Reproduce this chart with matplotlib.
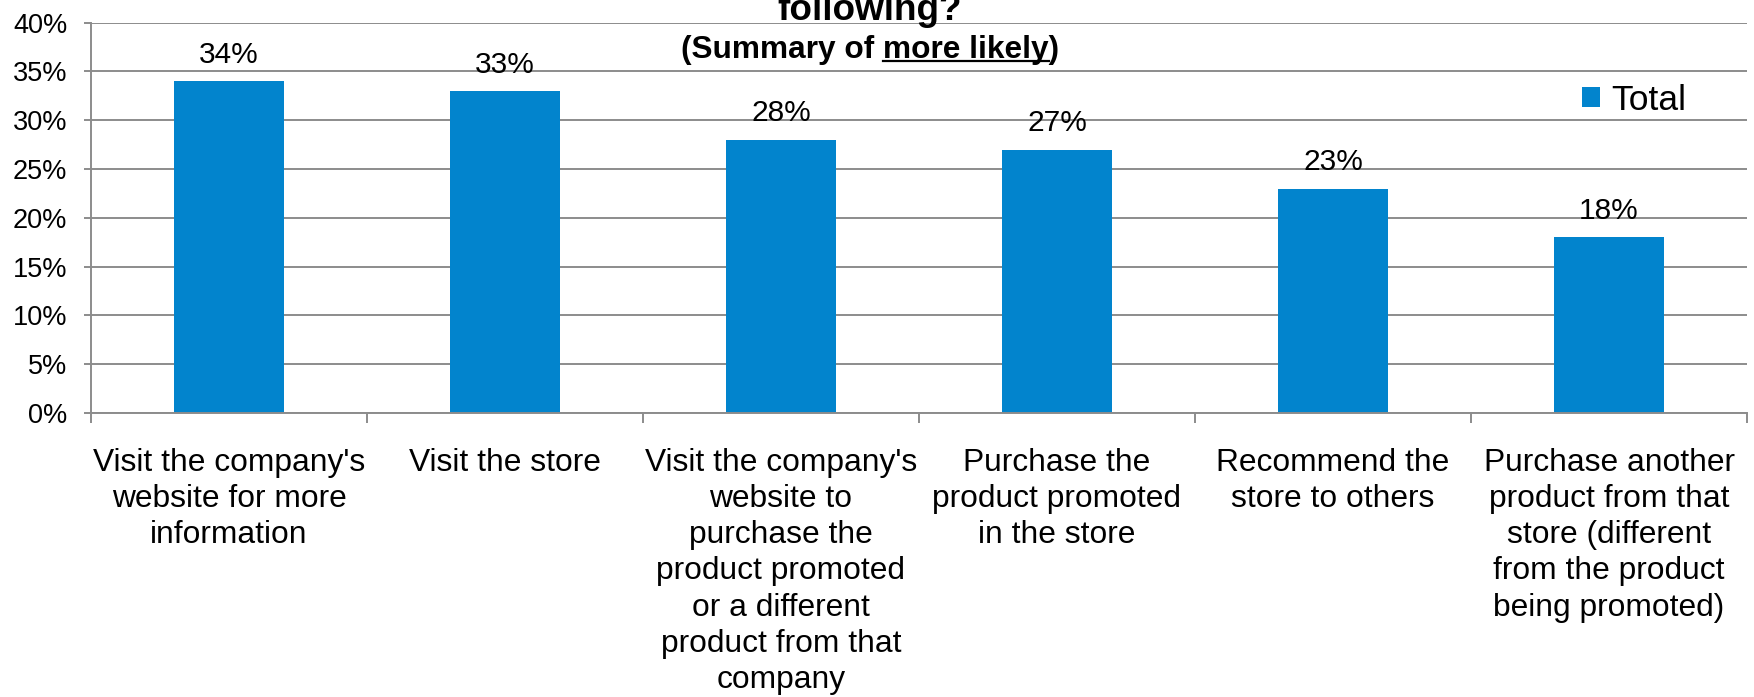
import matplotlib
matplotlib.use("Agg")
import matplotlib.pyplot as plt
import numpy as np

plt.rcParams['font.family'] = ['Liberation Sans', 'DejaVu Sans']

### data ###
categories = [
  "Visit the company's\nwebsite for more\ninformation",
  "Visit the store",
  "Visit the company's\nwebsite to\npurchase the\nproduct promoted\nor a different\nproduct from that\ncompany",
  "Purchase the\nproduct promoted\nin the store",
  "Recommend the\nstore to others",
  "Purchase another\nproduct from that\nstore (different\nfrom the product\nbeing promoted)",
]
totals = [34, 33, 28, 27, 23, 18]
y_ticks = [0, 5, 10, 15, 20, 25, 30, 35, 40]
series_name = "Total"
title_tail = "following?"
subtitle_parts = ["(Summary of ", "more likely", ")"]

BAR = '#0284CD'
GRID = '#8c8c8c'
W, H = 1754, 697

fig = plt.figure(figsize=(W / 100, H / 100), dpi=100)
ax = fig.add_axes([91 / W, 284 / H, (1747 - 91) / W, (413 - 22.7) / H])

x = np.arange(len(categories))
bars = ax.bar(x, totals, width=0.4, color=BAR, zorder=2, label=series_name)
ax.bar_label(bars, labels=[f"{v}%" for v in totals], padding=9, fontsize=21.5, zorder=3)

ax.set_xlim(-0.5, len(categories) - 0.5)
ax.set_ylim(0, 40)
ax.set_yticks(y_ticks)
ax.set_yticklabels([f"{v}%" for v in y_ticks], fontsize=19.5)
ax.yaxis.grid(True, color=GRID, lw=1.4, zorder=0)
ax.tick_params(axis='y', length=5, width=1.4, color=GRID, pad=12)

# boundary ticks between categories, labels sit at the centres
ax.set_xticks(np.arange(len(categories) + 1) - 0.5)
ax.set_xticklabels([])
ax.tick_params(axis='x', which='major', length=7.5, width=1.4, color=GRID)
ax.set_xticks(x, minor=True)
ax.set_xticklabels(categories, minor=True, fontsize=22.9, linespacing=1.27)
ax.tick_params(axis='x', which='minor', length=0, pad=25)

for side in ['top', 'right']:
  ax.spines[side].set_visible(False)
for side in ['left', 'bottom']:
  ax.spines[side].set_color(GRID)
  ax.spines[side].set_linewidth(1.4)

fig.legend(loc='center right', bbox_to_anchor=(1686 / W, 1 - 100 / H), bbox_transform=fig.transFigure,
           frameon=False, fontsize=25.5, borderpad=0, borderaxespad=0,
           handlelength=0.52, handleheight=0.52, handletextpad=0.3)

# title, its first lines run off the top edge
cx = 870 / W
fig.text(cx, 1 - 19.5 / H, title_tail, ha='center', va='baseline', fontsize=26.6, fontweight='bold')
sub = fig.text(cx, 1 - 58 / H, "".join(subtitle_parts), ha='center', va='baseline',
               fontsize=22.8, fontweight='bold')

# underline "more likely"
fig.canvas.draw()
r = fig.canvas.get_renderer()
bb = sub.get_window_extent(r)
def text_w(s):
  t = fig.text(0, 0, s, fontsize=22.8, fontweight='bold')
  w = t.get_window_extent(r).width
  t.remove()
  return w
x1 = bb.x1 - text_w(subtitle_parts[2])
x0 = bb.x1 - text_w(subtitle_parts[1] + subtitle_parts[2])
uy = (H - 61) / H
fig.add_artist(plt.Line2D([x0 / W, x1 / W], [uy, uy], color='black', lw=1.6))

plt.savefig('out.png', dpi=100)
